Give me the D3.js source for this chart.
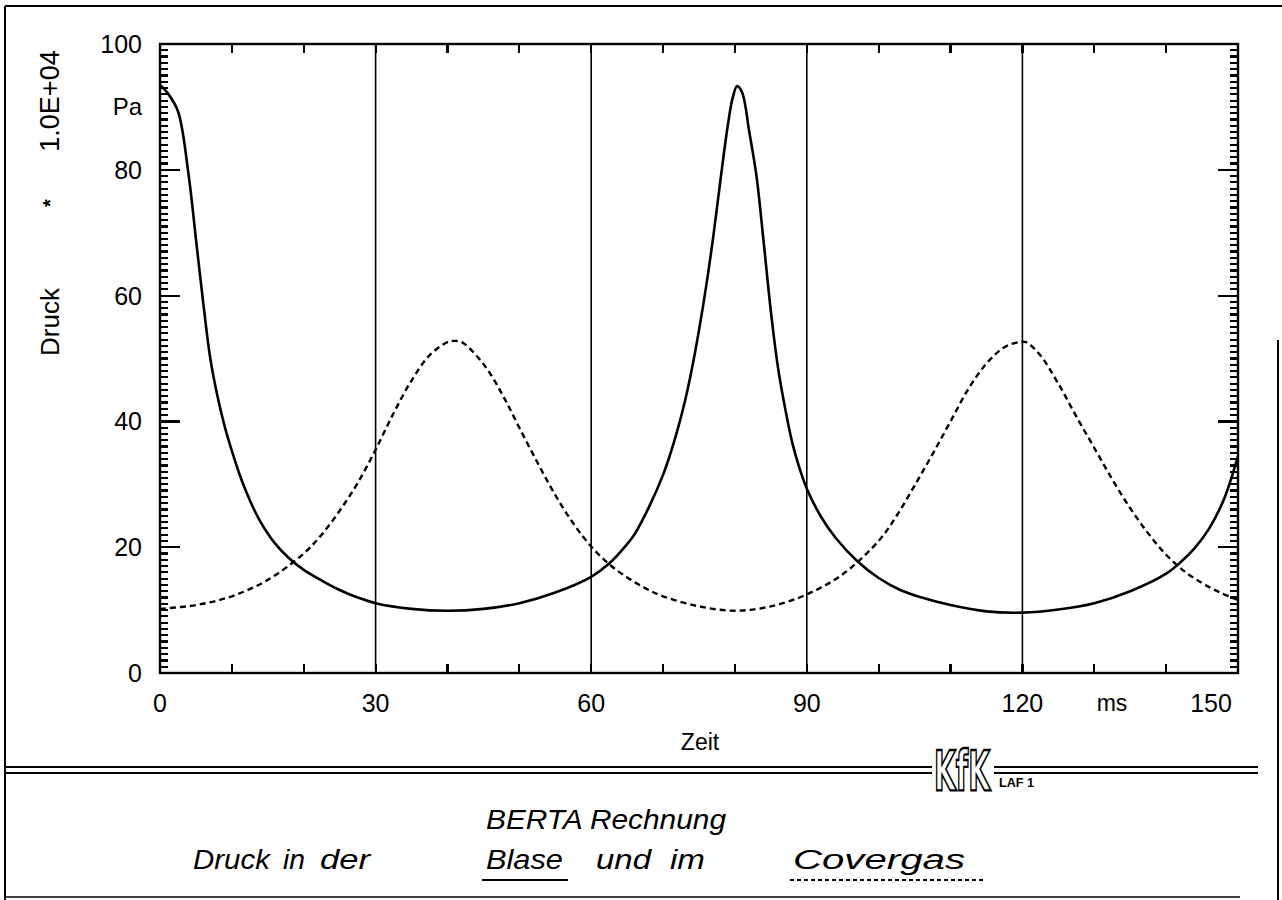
<!DOCTYPE html>
<html><head><meta charset="utf-8">
<script src="https://cdn.jsdelivr.net/npm/d3@7"></script>
<style>html,body{margin:0;padding:0;background:#fff;}svg{display:block;}</style>
</head><body>
<script>
// ---- data ----
const tBlase = [0,1,2.5,4,5,6,7,8,9,10,11,12,13,14,16,18,20,22.5,25,27.5,30,35,40,45,50,55,60,62.5,65,66,68,70,71,72,73,74,75,76,77,78,79,79.7,80.3,81,82,83,84,85,86,87,88,89,90,92,94,97,100,103,106,110,115,120,125,130,135,140,142,144,146,148,150];
const pBlase = [93.5,92.3,89.3,79,69,59,50,44,39.2,35.3,31.8,28.8,26.2,24,20.6,18.2,16.4,14.7,13.2,12,11.1,10.2,9.9,10.2,11.1,12.8,15.3,17.4,20.5,22,26.3,31.5,34.8,38.6,43,48.3,54.5,61.5,69.5,78.5,87,91.5,93.3,92.3,86,79,68.5,57.5,48.5,42,36.5,32.5,29.3,24.8,21.5,17.8,15.1,13.2,12,10.8,9.8,9.6,10.1,11.1,13,15.8,17.6,19.9,23,27.5,34.5];
const tCover = [0,5,10,15,20,22.5,25,27.5,30,32.5,35,37.5,40,41,42,44,46,48,50,52.5,55,57.5,60,62.5,65,67.5,70,75,80,85,90,95,100,102.5,105,107.5,110,112.5,115,117.5,119.5,120.5,122.5,125,127.5,130,132.5,135,137.5,140,142.5,145,147.5,150];
const pCover = [10.2,10.8,12.2,14.8,19,22,25.8,30.2,35.5,41.3,46.5,50.5,52.6,52.8,52.6,50.5,47.5,43.5,39,33.5,28.3,23.8,20.1,17.3,15.2,13.5,12.2,10.6,9.9,10.6,12.5,15.7,21,25,29.8,34.8,40,45.2,49.2,51.8,52.6,52.6,50.5,46,40.8,35.8,30.8,26.2,22.2,18.8,16.2,14.3,12.8,11.6];
const xTickLabels = [0,30,60,90,120,150];
const yTickLabels = [0,20,40,60,80,100];
const gridTimes = [30,60,90,120];

const W = 1282, H = 900;
const svg = d3.select("body").append("svg").attr("width", W).attr("height", H);
svg.append("rect").attr("width", W).attr("height", H).attr("fill", "#fff");

const x = d3.scaleLinear().domain([0,150]).range([160,1238]);
const y = d3.scaleLinear().domain([0,100]).range([673,44]);
const FONT = "'Liberation Sans', Arial, sans-serif";

// outer page frame
const frame = svg.append("g").attr("stroke","#000").attr("fill","none");
frame.append("line").attr("x1",5).attr("x2",5).attr("y1",6).attr("y2",900).attr("stroke-width",2);
frame.append("line").attr("x1",5).attr("x2",1282).attr("y1",6).attr("y2",6).attr("stroke-width",2);
frame.append("line").attr("x1",1278).attr("x2",1278).attr("y1",340).attr("y2",900).attr("stroke-width",2);
frame.append("line").attr("x1",5).attr("x2",1240).attr("y1",897).attr("y2",897).attr("stroke-width",1.5);

// grid lines (vertical at 30,60,90,120)
svg.append("g").selectAll("line").data(gridTimes).join("line")
  .attr("x1",d=>x(d)).attr("x2",d=>x(d)).attr("y1",y(100)).attr("y2",y(0))
  .attr("stroke","#000").attr("stroke-width",1.6);

// ticks
const minorX = d3.range(0,151,10);
const minorY = d3.range(0,101,1);
const ticks = svg.append("g").attr("stroke","#000").attr("stroke-width",2.2).attr("shape-rendering","crispEdges");
ticks.selectAll("line.xb").data(minorX).join("line").attr("class","xb")
  .attr("x1",d=>x(d)).attr("x2",d=>x(d)).attr("y1",y(0)).attr("y2",y(0)-9);
ticks.selectAll("line.xt").data(minorX).join("line").attr("class","xt")
  .attr("x1",d=>x(d)).attr("x2",d=>x(d)).attr("y1",y(100)).attr("y2",y(100)+9);
const tlen = d => (d % 20 === 0 && d > 0 && d < 100) ? 20 : 8;
ticks.selectAll("line.yl").data(minorY).join("line").attr("class","yl")
  .attr("x1",x(0)).attr("x2",d=>x(0)+tlen(d)).attr("y1",d=>y(d)).attr("y2",d=>y(d));
ticks.selectAll("line.yr").data(minorY).join("line").attr("class","yr")
  .attr("x1",x(150)).attr("x2",d=>x(150)-tlen(d)).attr("y1",d=>y(d)).attr("y2",d=>y(d));

// frame of plot
svg.append("rect").attr("x",x(0)).attr("y",y(100)).attr("width",x(150)-x(0)).attr("height",y(0)-y(100))
  .attr("fill","none").attr("stroke","#000").attr("stroke-width",2.4);

// tick labels
svg.append("g").selectAll("text").data(yTickLabels).join("text")
  .attr("x",142).attr("y",d=>y(d)).attr("text-anchor","end").attr("dominant-baseline","central")
  .attr("font-family",FONT).attr("font-size",25).text(d=>d);
const xLabelPos = {0:x(0),30:x(30),60:x(60),90:x(90),120:x(120),150:1211};
svg.append("g").selectAll("text").data(xTickLabels).join("text")
  .attr("x",d=>xLabelPos[d]).attr("y",703).attr("text-anchor","middle").attr("dominant-baseline","central")
  .attr("font-family",FONT).attr("font-size",25).text(d=>d);
svg.append("text").attr("x",1112).attr("y",703).attr("text-anchor","middle").attr("dominant-baseline","central")
  .attr("font-family",FONT).attr("font-size",23).text("ms");
svg.append("text").attr("x",700).attr("y",742).attr("text-anchor","middle").attr("dominant-baseline","central")
  .attr("font-family",FONT).attr("font-size",23).text("Zeit");

// y axis titles
svg.append("text").attr("x",142).attr("y",y(90)).attr("text-anchor","end").attr("dominant-baseline","central")
  .attr("font-family",FONT).attr("font-size",24).text("Pa");
svg.append("text").attr("transform","translate(50,101) rotate(-90)").attr("text-anchor","middle")
  .attr("dominant-baseline","central").attr("font-family",FONT).attr("font-size",27).text("1.0E+04");
svg.append("text").attr("transform","translate(50,203) rotate(-90)").attr("text-anchor","middle")
  .attr("dominant-baseline","central").attr("font-family",FONT).attr("font-size",20).attr("font-weight","bold").text("*");
svg.append("text").attr("transform","translate(50,322) rotate(-90)").attr("text-anchor","middle")
  .attr("dominant-baseline","central").attr("font-family",FONT).attr("font-size",26).text("Druck");

// curves
svg.append("clipPath").attr("id","plot").append("rect")
  .attr("x",x(0)).attr("y",y(100)).attr("width",x(150)-x(0)).attr("height",y(0)-y(100));
const line = d3.line().x(d=>x(d[0])).y(d=>y(d[1])).curve(d3.curveCatmullRom.alpha(0.5));
const blase = tBlase.map((t,i)=>[t,pBlase[i]]);
const cover = tCover.map((t,i)=>[t,pCover[i]]);
svg.append("path").attr("d",line(cover)).attr("fill","none").attr("stroke","#000")
  .attr("stroke-width",2.4).attr("stroke-dasharray","6,4").attr("clip-path","url(#plot)");
svg.append("path").attr("d",line(blase)).attr("fill","none").attr("stroke","#000")
  .attr("stroke-width",2.6).attr("stroke-linejoin","round").attr("clip-path","url(#plot)");

// double separator line
svg.append("line").attr("x1",5).attr("x2",1258).attr("y1",767).attr("y2",767).attr("stroke","#000").attr("stroke-width",2);
svg.append("line").attr("x1",5).attr("x2",1258).attr("y1",773).attr("y2",773).attr("stroke","#000").attr("stroke-width",2);

// KfK logo
svg.append("rect").attr("x",932).attr("y",742).attr("width",62).attr("height",50).attr("fill","#fff");
svg.append("text").attr("transform","translate(934,790) scale(1,1.75)")
  .attr("font-family","'DejaVu Sans Condensed','DejaVu Sans',sans-serif")
  .attr("font-weight","bold").attr("font-size",32).attr("fill","#fff").attr("stroke","#000").attr("stroke-width",1.3)
  .attr("textLength",56).attr("lengthAdjust","spacingAndGlyphs").text("KfK");
svg.append("rect").attr("x",997).attr("y",775).attr("width",40).attr("height",13).attr("fill","#fff");
svg.append("text").attr("x",999).attr("y",787).attr("font-family",FONT).attr("font-size",12).attr("font-weight","bold")
  .attr("textLength",35).attr("lengthAdjust","spacingAndGlyphs").text("LAF 1");

// captions
svg.append("text").attr("x",486).attr("y",829).attr("font-family",FONT).attr("font-style","italic")
  .attr("font-size",27).attr("textLength",240).attr("lengthAdjust","spacingAndGlyphs").text("BERTA Rechnung");
const words = [["Druck",193,77],["in",283,22],["der",320,50],["Blase",486,77],["und",596,55],["im",670,35],["Covergas",793,172]];
svg.append("g").selectAll("text").data(words).join("text")
  .attr("x",d=>d[1]).attr("y",869).attr("font-family",FONT).attr("font-style","italic").attr("font-size",27)
  .attr("textLength",d=>d[2]).attr("lengthAdjust","spacingAndGlyphs").text(d=>d[0]);
svg.append("line").attr("x1",482).attr("x2",568).attr("y1",880).attr("y2",880).attr("stroke","#000").attr("stroke-width",2);
svg.append("line").attr("x1",790).attr("x2",986).attr("y1",880).attr("y2",880).attr("stroke","#000").attr("stroke-width",2).attr("stroke-dasharray","4,3");
</script>
</body></html>
